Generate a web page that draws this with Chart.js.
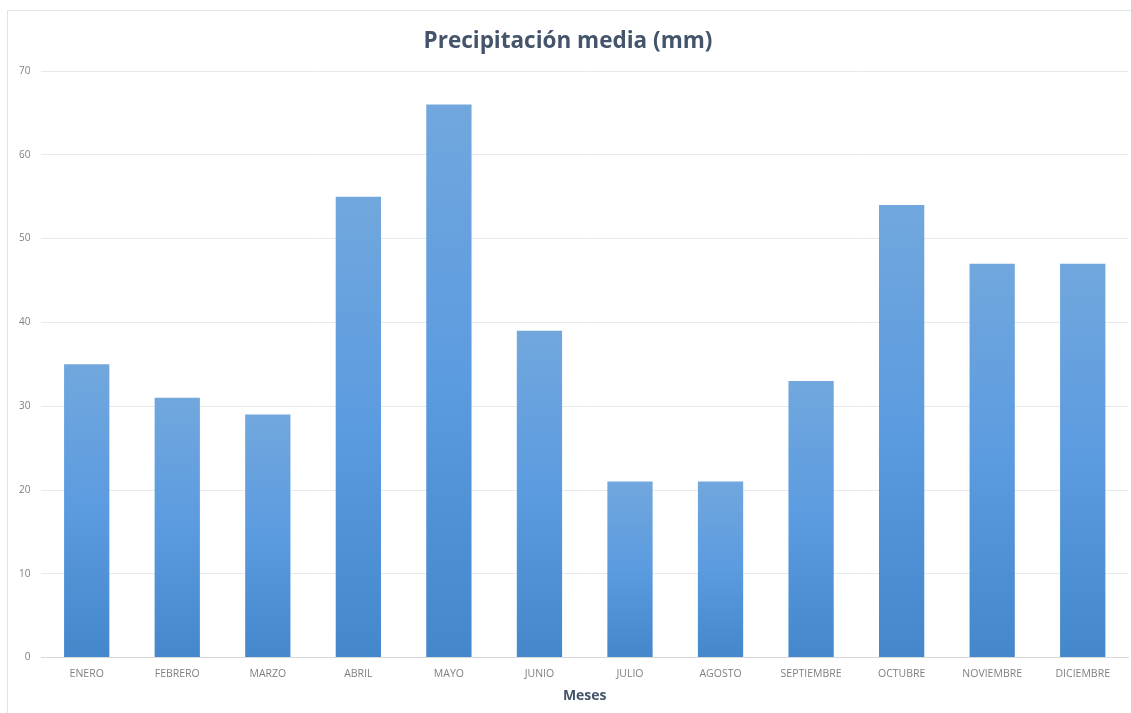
<!DOCTYPE html>
<html>
<head>
<meta charset="utf-8">
<script src="https://cdn.jsdelivr.net/npm/chart.js@4/dist/chart.umd.min.js"></script>
<style>
  html, body { margin: 0; padding: 0; background: #fff; }
  #marco {
    position: absolute; left: 7px; top: 10px;
    width: 1123px; height: 702px;
    border-left: 1px solid #dde3ea; border-top: 1px solid #dde3ea;
  }
</style>
</head>
<body>
<div id="marco"><canvas id="grafica" width="1123" height="702"></canvas></div>
<script>
// Datos
const meses = ["ENERO", "FEBRERO", "MARZO", "ABRIL", "MAYO", "JUNIO", "JULIO",
               "AGOSTO", "SEPTIEMBRE", "OCTUBRE", "NOVIEMBRE", "DICIEMBRE"];
const precipitacion = [35, 31, 29, 55, 66, 39, 21, 21, 33, 54, 47, 47];
const ticksY = [0, 10, 20, 30, 40, 50, 60, 70];

// Degradado por barra: claro arriba, oscuro abajo
function colorBarra(context){
    let chart = context.chart;
    if(!chart.chartArea || !chart.scales.y){
        return '#5b9bd5';
    }
    let y = chart.scales.y;
    let arriba = y.getPixelForValue(context.raw);
    let abajo = y.getPixelForValue(0);
    let g = chart.ctx.createLinearGradient(0, arriba, 0, abajo);
    g.addColorStop(0, '#71a7dd');
    g.addColorStop(0.5, '#5b9be0');
    g.addColorStop(1, '#4487cb');
    return g;
}

let canvas = document.getElementById("grafica");
new Chart(canvas, {
    type: 'bar',
    data: {
        labels: meses,
        datasets: [{
            label: 'Precipitación media (mm)',
            data: precipitacion,
            backgroundColor: colorBarra,
            borderWidth: 0,
            categoryPercentage: 1,
            barPercentage: 0.5
        }]
    },
    options: {
        responsive: false,
        animation: false,
        layout: {
            padding: { left: 0, right: 3, top: 0, bottom: 9 }
        },
        plugins: {
            legend: { display: false },
            tooltip: { enabled: false },
            title: {
                display: true,
                text: 'Precipitación media (mm)',
                color: '#44546a',
                font: { family: 'Open Sans', size: 22.5, weight: 'bold' },
                padding: { top: 17, bottom: 16 }
            }
        },
        scales: {
            x: {
                grid: { display: false, drawTicks: false },
                border: { color: '#d9d9d9' },
                ticks: {
                    color: '#7f7f7f',
                    font: { family: 'Open Sans', size: 10.5 },
                    padding: 10,
                    maxRotation: 0,
                    minRotation: 0
                },
                title: {
                    display: true,
                    text: 'Meses',
                    color: '#44546a',
                    font: { family: 'Open Sans', size: 14, weight: 'bold' },
                    padding: { top: -3, bottom: 0 }
                }
            },
            y: {
                min: 0,
                max: 70,
                afterBuildTicks: function(axis){
                    axis.ticks = ticksY.map(v => ({ value: v }));
                },
                grid: { color: '#e6e9ed', drawTicks: false },
                border: { display: false },
                ticks: {
                    color: '#7f7f7f',
                    font: { family: 'Open Sans', size: 10 },
                    padding: 11
                }
            }
        }
    }
});
</script>
</body>
</html>
